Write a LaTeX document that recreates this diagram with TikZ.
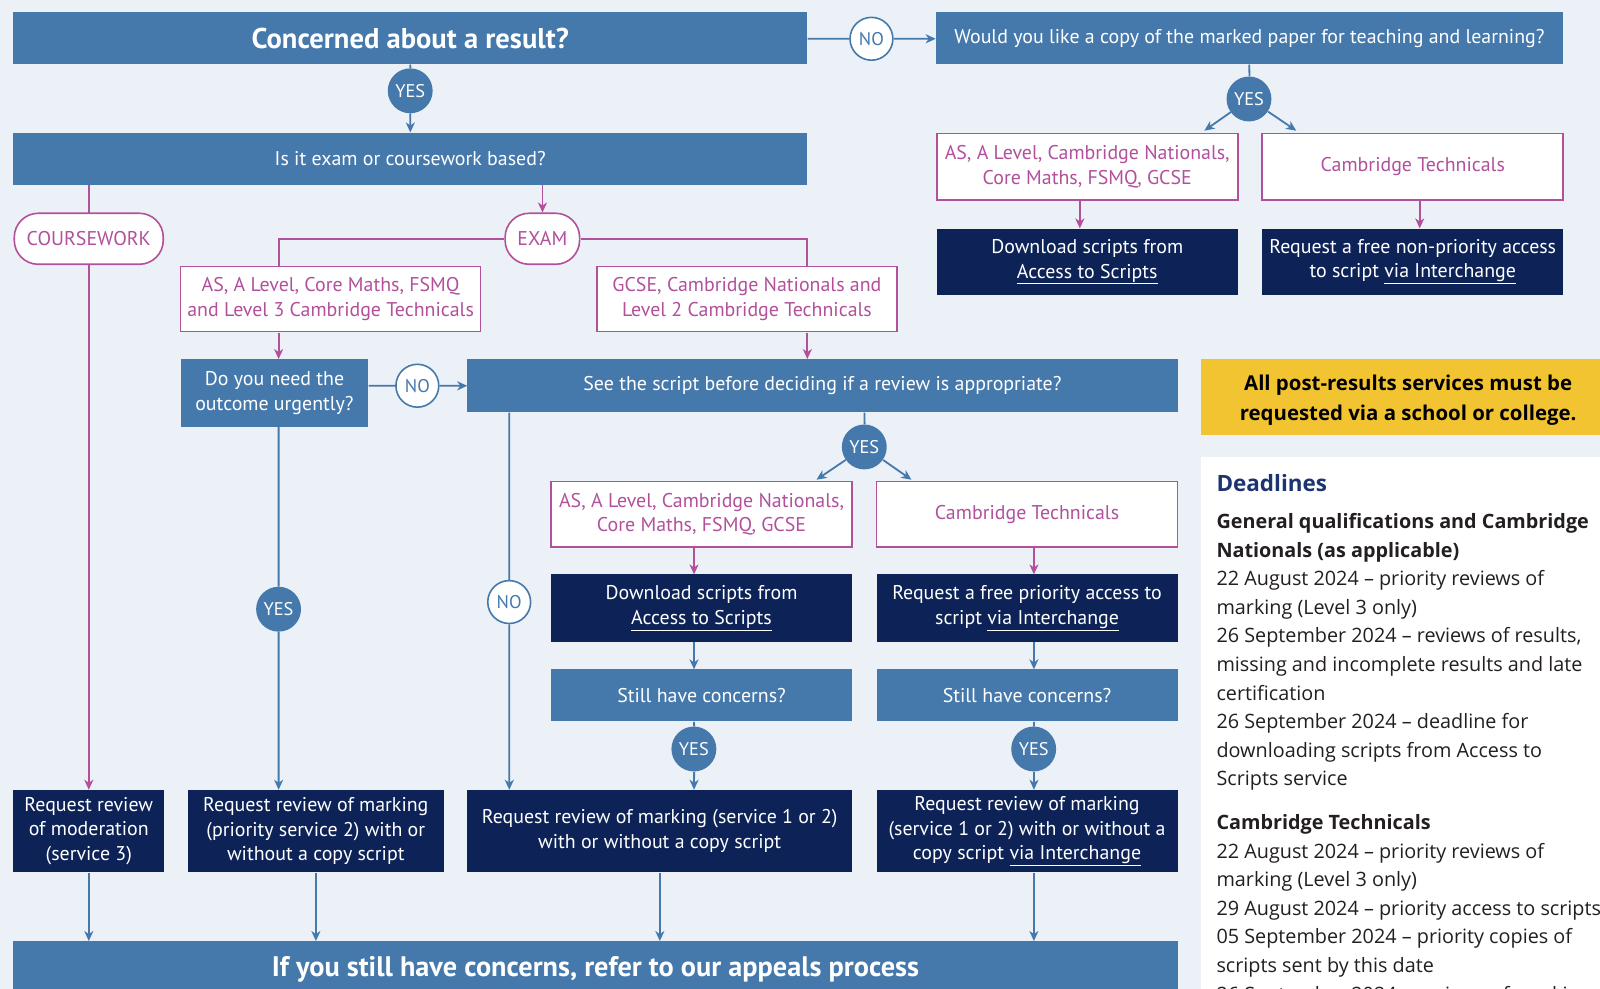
\documentclass[tikz,border=0pt]{standalone}
\usepackage{fontspec}
\setmainfont{PT Sans}
\newfontfamily\dlfont{Open Sans}
\usetikzlibrary{arrows.meta}
\definecolor{bg}{HTML}{ECF1F8}
\definecolor{oblue}{HTML}{4679AB}
\definecolor{onavy}{HTML}{0D2357}
\definecolor{omag}{HTML}{B2509C}
\definecolor{oyellow}{HTML}{F3C431}
\definecolor{dlnavy}{HTML}{1C3470}
\definecolor{dltext}{HTML}{231F20}
\tikzset{
  base/.style={inner sep=0pt, align=center, font=\fontsize{19.5}{24}\selectfont},
  bluebox/.style={base, fill=oblue, text=white},
  navybox/.style={base, fill=onavy, text=white},
  magbox/.style={base, fill=white, draw=omag, line width=1.6pt, text=omag},
  pill/.style={magbox, rounded corners=24pt},
  yescirc/.style={circle, fill=oblue, text=white, minimum size=44pt, inner sep=0pt, font=\fontsize{18}{18}\selectfont},
  nocirc/.style={circle, fill=white, draw=oblue, line width=1.6pt, text=oblue, minimum size=42pt, inner sep=0pt, font=\fontsize{18}{18}\selectfont},
  bline/.style={draw=oblue, line width=1.8pt},
  barrow/.style={bline, -{Stealth[length=10pt,width=9pt,inset=3pt]}},
  mline/.style={draw=omag, line width=1.8pt},
  marrow/.style={mline, -{Stealth[length=10pt,width=9pt,inset=3pt]}}
}
\begin{document}
\begin{tikzpicture}[x=1pt,y=-1pt,scale=1.0204,every node/.append style={transform shape}]
\useasboundingbox (0,0) rectangle (1568,969.2);
\fill[bg] (0,0) rectangle (1568,969.2);

% top row
\node[bluebox, minimum width=778pt, minimum height=51pt, font=\bfseries\fontsize{28}{32}\selectfont] (concern) at (402,37.5) {Concerned about a result?};
\node[nocirc] (no1) at (854,38) {NO};
\node[bluebox, minimum width=615pt, minimum height=51pt] (copyq) at (1224.5,37.5) {Would you like a copy of the marked paper for teaching and learning?};
\node[yescirc] (yes1) at (402,89) {YES};
\node[bluebox, minimum width=778pt, minimum height=51pt] (examq) at (402,155.5) {Is it exam or coursework based?};

% right top branch
\node[yescirc] (yes6) at (1224,97) {YES};
\node[magbox, minimum width=295pt, minimum height=65pt] (as1) at (1065.5,163.5) {AS, A Level, Cambridge Nationals,\\Core Maths, FSMQ, GCSE};
\node[magbox, minimum width=295pt, minimum height=65pt] (ct1) at (1384.5,163.5) {Cambridge Technicals};
\node[navybox, minimum width=295pt, minimum height=65pt] (dl1) at (1065.5,256.5) {Download scripts from\\\underline{Access to Scripts}};
\node[navybox, minimum width=295pt, minimum height=65pt] (rq1) at (1384.5,256.5) {Request a free non-priority access\\to script \underline{via Interchange}};

% coursework / exam
\node[pill, minimum width=146pt, minimum height=50pt] (cw) at (87,234) {COURSEWORK};
\node[pill, minimum width=73pt, minimum height=50pt] (exam) at (531.5,234) {EXAM};
\node[magbox, minimum width=294pt, minimum height=64pt] (asbox) at (324,293) {AS, A Level, Core Maths, FSMQ\\and Level 3 Cambridge Technicals};
\node[magbox, minimum width=294pt, minimum height=64pt] (gcsebox) at (732,293) {GCSE, Cambridge Nationals and\\Level 2 Cambridge Technicals};

\node[bluebox, minimum width=184pt, minimum height=66pt] (urgent) at (269,385) {Do you need the\\outcome urgently?};
\node[nocirc] (no2) at (409,378) {NO};
\node[bluebox, minimum width=696pt, minimum height=52pt] (seescript) at (806,378) {See the script before deciding if a review is appropriate?};

\node[yescirc] (yes3) at (847,438) {YES};
\node[magbox, minimum width=295pt, minimum height=64pt] (as2) at (687.5,504) {AS, A Level, Cambridge Nationals,\\Core Maths, FSMQ, GCSE};
\node[magbox, minimum width=295pt, minimum height=64pt] (ct2) at (1006.5,504) {Cambridge Technicals};
\node[navybox, minimum width=295pt, minimum height=66pt] (dl2) at (687.5,596) {Download scripts from\\\underline{Access to Scripts}};
\node[navybox, minimum width=295pt, minimum height=66pt] (rq2) at (1006.5,596) {Request a free priority access to\\script \underline{via Interchange}};
\node[bluebox, minimum width=295pt, minimum height=51pt] (still1) at (687.5,681.5) {Still have concerns?};
\node[bluebox, minimum width=295pt, minimum height=51pt] (still2) at (1006.5,681.5) {Still have concerns?};
\node[yescirc] (yes4) at (680,734) {YES};
\node[yescirc] (yes5) at (1013,734) {YES};
\node[yescirc] (yes2) at (273,597) {YES};
\node[nocirc] (no3) at (499,590) {NO};

% bottom boxes
\node[navybox, minimum width=148pt, minimum height=81pt] (rmod) at (87,814.5) {Request review\\of moderation\\(service 3)};
\node[navybox, minimum width=251pt, minimum height=81pt] (rpri) at (309.5,814.5) {Request review of marking\\(priority service 2) with or\\without a copy script};
\node[navybox, minimum width=377pt, minimum height=81pt] (rm12) at (646.5,814.5) {Request review of marking (service 1 or 2)\\with or without a copy script};
\node[navybox, minimum width=295pt, minimum height=81pt] (rm12i) at (1006.5,814.5) {Request review of marking\\(service 1 or 2) with or without a\\copy script \underline{via Interchange}};

\node[bluebox, minimum width=1141pt, minimum height=80pt, anchor=north] (appeals) at (583.5,922) {};
\node[base, text=white, font=\bfseries\fontsize{27.7}{32}\selectfont] (appealstext) at (583.5,950) {If you still have concerns, refer to our appeals process};

% right panel
\node[fill=oyellow, minimum width=440pt, minimum height=74pt, anchor=west, inner sep=0pt] (yellow) at (1177,389) {};
\node[align=center, inner sep=0pt, text=black, font=\dlfont\bfseries\fontsize{20}{29}\selectfont] (yellowtext) at (1380,392) {All post-results services must be\\requested via a school or college.};
\node[fill=white, minimum width=440pt, minimum height=560pt, anchor=north west, inner sep=0pt] (panel) at (1177,448) {};
\node[anchor=base west, inner sep=0pt, text=dlnavy, font=\dlfont\bfseries\fontsize{22}{26}\selectfont] (dlhead) at (1192,482) {Deadlines};
\node[anchor=north west, align=left, inner sep=0pt, text=dltext, font=\dlfont\fontsize{19.4}{28}\selectfont] (dlbody) at (1192,503) {\textbf{General qualifications and Cambridge}\\
\textbf{Nationals (as applicable)}\\
22 August 2024 – priority reviews of\\
marking (Level 3 only)\\
26 September 2024 – reviews of results,\\
missing and incomplete results and late\\
certification\\
26 September 2024 – deadline for\\
downloading scripts from Access to\\
Scripts service\\[15pt]
\textbf{Cambridge Technicals}\\
22 August 2024 – priority reviews of\\
marking (Level 3 only)\\
29 August 2024 – priority access to scripts\\
05 September 2024 – priority copies of\\
scripts sent by this date\\
26 September 2024 – reviews of marking};

% coordinates
\coordinate (asin) at (273,261);
\coordinate (gin) at (791,261);
\coordinate (c1) at (800,470);
\coordinate (c2) at (893,470);
\coordinate (c3) at (1180,128);
\coordinate (c4) at (1270,128);
\coordinate (x1058) at (1058,0);
\coordinate (x1391) at (1391,0);

% connectors
\draw[bline] (concern.east |- no1) -- (no1);
\draw[barrow] (no1) -- (copyq.west |- no1);
\draw[bline] (concern.south -| yes1) -- (yes1);
\draw[barrow] (yes1) -- (examq.north -| yes1);

\draw[bline] (copyq.south -| yes6) -- (yes6);
\draw[barrow] (yes6) -- (c3);
\draw[barrow] (yes6) -- (c4);
\draw[marrow] (as1.south -| x1058) -- (dl1.north -| x1058);
\draw[marrow] (ct1.south -| x1391) -- (rq1.north -| x1391);

\draw[mline] (examq.south -| cw) -- (cw.north);
\draw[marrow] (cw.south) -- (rmod.north);
\draw[marrow] (examq.south -| exam) -- (exam.north);
\draw[mline] (exam.west) -| (asin);
\draw[mline] (exam.east) -| (gin);
\draw[marrow] (asbox.south -| asin) -- (urgent.north -| asin);
\draw[marrow] (gcsebox.south -| gin) -- (seescript.north -| gin);

\draw[bline] (urgent.east |- no2) -- (no2);
\draw[barrow] (no2) -- (seescript.west |- no2);
\draw[bline] (urgent.south -| yes2) -- (yes2);
\draw[barrow] (yes2) -- (rpri.north -| yes2);
\draw[bline] (seescript.south -| no3) -- (no3);
\draw[barrow] (no3) -- (rm12.north -| no3);

\draw[bline] (seescript.south -| yes3) -- (yes3);
\draw[barrow] (yes3) -- (c1);
\draw[barrow] (yes3) -- (c2);
\draw[marrow] (as2.south -| yes4) -- (dl2.north -| yes4);
\draw[marrow] (ct2.south -| yes5) -- (rq2.north -| yes5);
\draw[barrow] (dl2.south -| yes4) -- (still1.north -| yes4);
\draw[barrow] (rq2.south -| yes5) -- (still2.north -| yes5);
\draw[bline] (still1.south -| yes4) -- (yes4);
\draw[barrow] (yes4) -- (rm12.north -| yes4);
\draw[bline] (still2.south -| yes5) -- (yes5);
\draw[barrow] (yes5) -- (rm12i.north -| yes5);

\draw[barrow] (rmod.south) -- (appeals.north -| rmod);
\draw[barrow] (rpri.south) -- (appeals.north -| rpri);
\draw[barrow] (rm12.south) -- (appeals.north -| rm12);
\draw[barrow] (rm12i.south -| yes5) -- (appeals.north -| yes5);
\end{tikzpicture}
\end{document}
